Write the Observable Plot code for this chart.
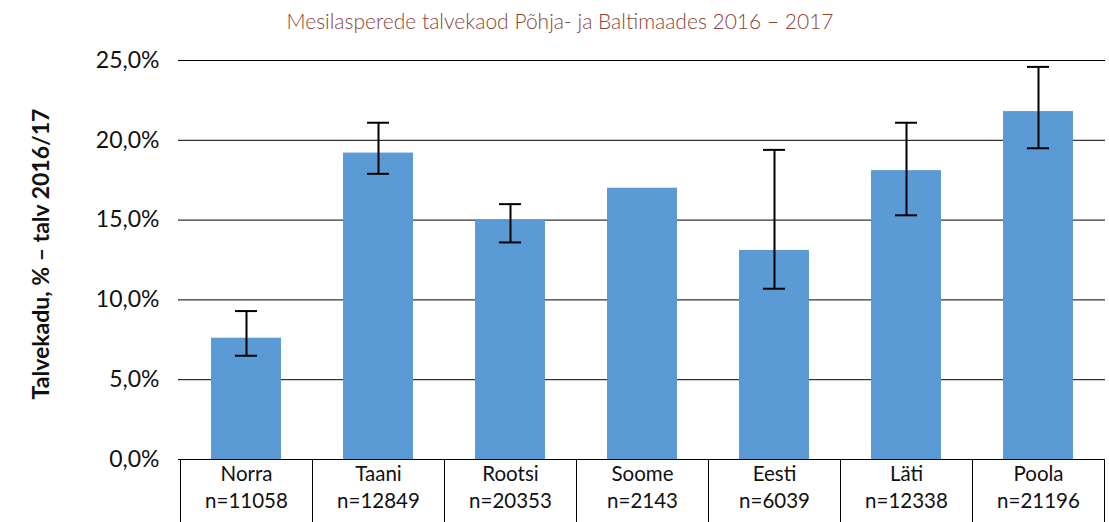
<!DOCTYPE html>
<html>
<head>
<meta charset="utf-8">
<script src="https://cdn.jsdelivr.net/npm/d3@7"></script>
<script src="https://cdn.jsdelivr.net/npm/@observablehq/plot@0.6"></script>
<style>
  html, body { margin: 0; padding: 0; background: #fff; }
  #wrap { position: relative; width: 1109px; height: 522px; }
  #title { height: 40px; line-height: 42px; text-align: center; padding-left: 11px; box-sizing: border-box;
    font-family: Lato, sans-serif; font-weight: 300; font-size: 21px; color: #8a4536; white-space: nowrap; }
  #ylabel { position: absolute; left: 40px; top: 254px; transform: translate(-50%, -50%) rotate(-90deg);
    font-family: Lato, sans-serif; font-weight: bold; font-size: 23px; color: #111; white-space: nowrap; }
  svg { display: block; }
</style>
</head>
<body>
<div id="wrap">
<div id="title">Mesilasperede talvekaod Põhja- ja Baltimaades 2016 – 2017</div>
<div id="chart"></div>
<div id="ylabel"></div>
</div>
<script>
const countries = ["Norra", "Taani", "Rootsi", "Soome", "Eesti", "Läti", "Poola"];
const sampleSizes = [11058, 12849, 20353, 2143, 6039, 12338, 21196];
const lossPct = [7.6, 19.2, 15.0, 17.0, 13.1, 18.1, 21.8];
const lowerPct = [6.5, 17.9, 13.6, null, 10.7, 15.3, 19.5];
const upperPct = [9.3, 21.1, 16.0, null, 19.4, 21.1, 24.6];
const yTicks = [0, 5, 10, 15, 20, 25];
const yLabel = "Talvekadu, % – talv 2016/17";

document.getElementById("ylabel").textContent = yLabel;

const data = countries.map((c, i) => ({
  country: c, n: sampleSizes[i], loss: lossPct[i], lo: lowerPct[i], hi: upperPct[i]
}));
const errData = data.filter(d => d.lo != null);

const W = 1109, H = 482, ML = 178, MR = 4, MT = 20, MB = 63;

function tableLines(index, scales, values, dims) {
  const x = scales.x;
  const step = x.step(), bw = x.bandwidth();
  const y0 = dims.height - dims.marginBottom;
  const g = d3.create("svg:g");
  const edges = countries.map(c => x(c) + bw / 2 - step / 2);
  edges.push(x(countries[countries.length - 1]) + bw / 2 + step / 2);
  for (const e of edges) {
    g.append("line").attr("x1", Math.round(e) + 0.5).attr("x2", Math.round(e) + 0.5)
      .attr("y1", y0).attr("y2", dims.height).attr("stroke", "#000").attr("stroke-width", 1);
  }
  return g.node();
}

const chart = Plot.plot({
  width: W, height: H,
  marginLeft: ML, marginRight: MR, marginTop: MT, marginBottom: MB,
  style: { fontFamily: "Lato, sans-serif", background: "#fff" },
  x: { domain: countries, paddingInner: 0.47, paddingOuter: 0.235, axis: null },
  y: { domain: [0, 25], axis: null },
  marks: [
    Plot.ruleY(yTicks, { y: d => d, stroke: "#000", strokeWidth: 1 }),
    Plot.barY(data, { x: "country", y: "loss", fill: "#5b9bd5" }),
    Plot.ruleX(errData, { x: "country", y1: "lo", y2: "hi", stroke: "#000", strokeWidth: 2 }),
    Plot.tickY(errData, { x: "country", y: "lo", stroke: "#000", strokeWidth: 2, insetLeft: 24, insetRight: 24 }),
    Plot.tickY(errData, { x: "country", y: "hi", stroke: "#000", strokeWidth: 2, insetLeft: 24, insetRight: 24 }),
    Plot.axisY(yTicks, { tickSize: 0, tickPadding: 19, fontSize: 23, fill: "#111",
      tickFormat: d => d.toFixed(1).replace(".", ",") + "%", label: null }),
    Plot.text(data, { x: "country", frameAnchor: "bottom", lineAnchor: "top", dy: 3,
      text: d => d.country + "\nn=" + d.n, fontSize: 20.5, lineHeight: 1.3, fill: "#111" }),
    tableLines
  ]
});
document.getElementById("chart").append(chart);
</script>
</body>
</html>
